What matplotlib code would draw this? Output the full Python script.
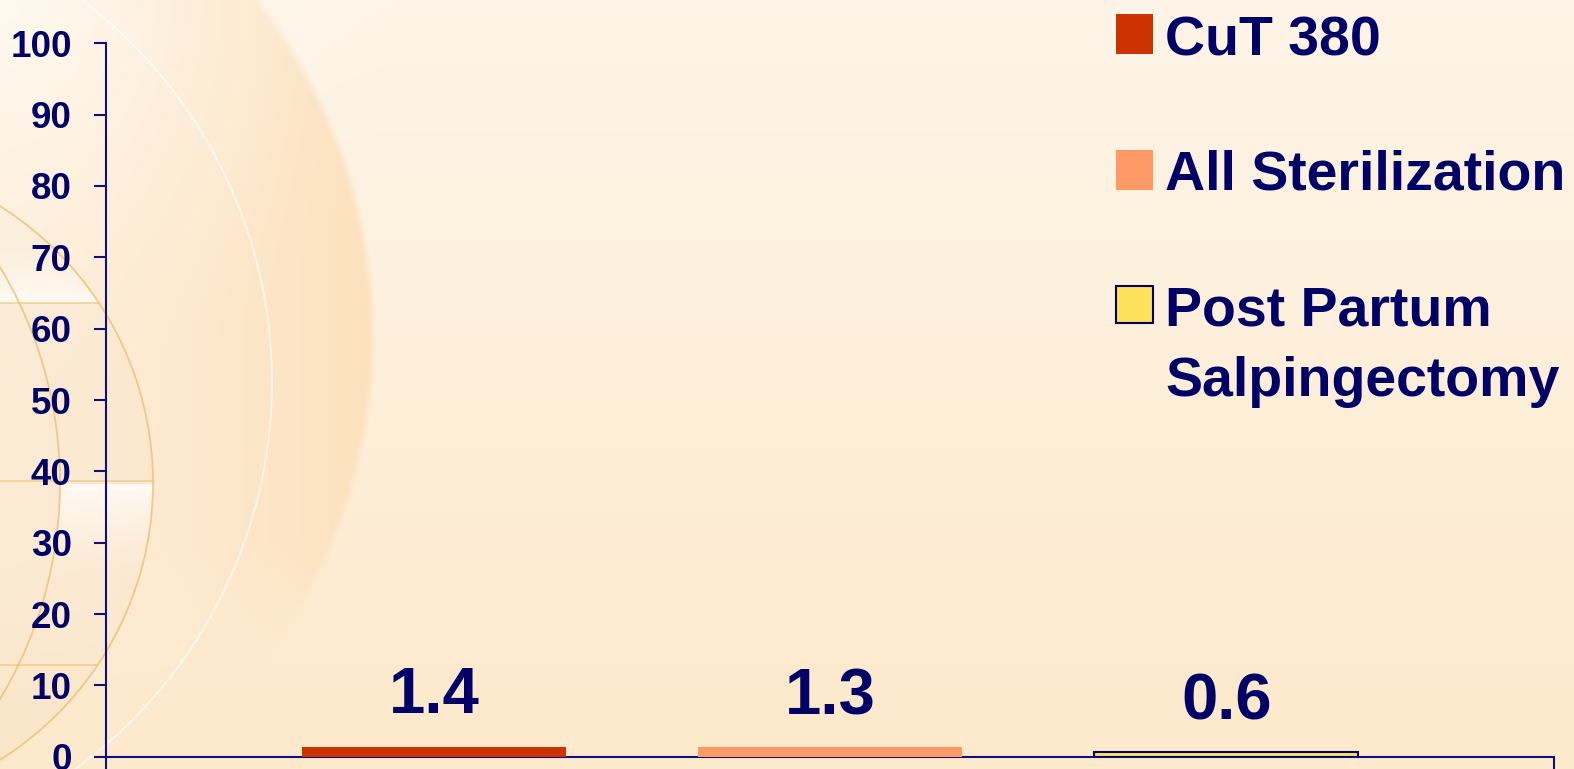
import matplotlib
matplotlib.use("Agg")
import matplotlib.pyplot as plt
import numpy as np
from matplotlib.patches import Circle, Rectangle

# data
series = ["CuT 380", "All Sterilization", "Post Partum\nSalpingectomy"]
values = [1.4, 1.3, 0.6]
value_labels = ["1.4", "1.3", "0.6"]
y_ticks = [0, 10, 20, 30, 40, 50, 60, 70, 80, 90, 100]

NAVY = "#000066"
AXIS = "#10107a"
bar_colors = ["#cc3300", "#ff9966", "#fde05c"]
bar_edges = ["none", "none", NAVY]

W, H = 1574, 769
plt.rcParams["font.family"] = ["Liberation Sans", "DejaVu Sans"]
plt.rcParams["font.weight"] = "bold"

fig = plt.figure(figsize=(W / 100, H / 100), dpi=100)

# background picture (slide template)
bg = fig.add_axes([0, 0, 1, 1], zorder=0)
bg.set_axis_off()
yy, xx = np.mgrid[0:H, 0:W].astype(float)
t = (yy / H)[..., None]
img = np.array([254, 245, 232]) * (1 - t) + np.array([253, 233, 203]) * t

# big soft disc on the left, fading towards the bottom
dist = np.sqrt((xx + 176) ** 2 + (yy - 336) ** 2)
m = np.clip((552 - dist) / 8, 0, 1) * np.clip((690 - yy) / 150, 0, 1)
s = np.clip(xx / 375, 0, 1)[..., None] ** 1.6
disc_col = np.array([254, 237, 215]) * (1 - s) + np.array([252, 225, 188]) * s
img = img * (1 - m[..., None]) + disc_col * m[..., None]

# globe drawing
outer_globe = (xx + 174) ** 2 + (yy - 483) ** 2 <= 327 ** 2
inner_globe = (xx + 359) ** 2 + (yy - 483) ** 2 <= 419 ** 2
img = np.where(outer_globe[..., None], img * 0.99, img)
white = np.array([255, 252, 248])
w1 = np.where(outer_globe & (yy >= 240) & (yy < 303), np.clip((yy - 240) / 63, 0, 1) ** 1.3 * 0.9, 0)
w2 = np.where(outer_globe & ~inner_globe & (yy > 483) & (yy < 580), np.clip(1 - (yy - 483) / 97, 0, 1) ** 1.3 * 0.9, 0)
hl = np.clip(1 - np.sqrt(xx ** 2 + yy ** 2) / 400, 0, 1) ** 1.5 * 0.8
for wgt in (w1, w2, hl):
    img = img * (1 - wgt[..., None]) + white * wgt[..., None]

bg.imshow(img.astype(np.uint8), extent=(0, W, H, 0), aspect="auto", interpolation="bilinear")
bg.add_patch(Circle((-207, 382), 479, fill=False, ec="white", lw=1.3, alpha=0.65))
orange = "#efc070"
bg.add_patch(Circle((-174, 483), 327, fill=False, ec=orange, lw=1.3, alpha=0.8))
bg.add_patch(Circle((-359, 483), 419, fill=False, ec=orange, lw=1.3, alpha=0.8))
for yl in (303, 481, 665):
    xe = np.sqrt(327 ** 2 - (yl - 483) ** 2) - 174
    bg.plot([0, xe], [yl, yl], color=orange, lw=1.3, alpha=0.6)
bg.set_xlim(0, W)
bg.set_ylim(H, 0)

# chart
x0, x1, y_top, y_zero = 106, 1554, 43.3, 756.7
ax = fig.add_axes([x0 / W, (H - y_zero) / H, (x1 - x0) / W, (y_zero - y_top) / H], zorder=2)
ax.patch.set_alpha(0)
x = np.arange(len(values))
ax.bar(x, values, width=0.667, color=bar_colors, edgecolor=bar_edges, linewidth=1.5, zorder=3)
for xi, v, lab in zip(x, values, value_labels):
    ax.annotate(lab, (xi, v), xytext=(0, 24), textcoords="offset points",
                ha="center", va="baseline", fontsize=47, fontweight="bold", color=NAVY)

ax.set_xlim(-0.828, 2.827)
ax.set_ylim(0, 100)
ax.set_yticks(y_ticks)
ax.set_xticks([-0.828, 2.827])
ax.set_xticklabels([])
ax.tick_params(axis="y", direction="out", length=8.6, width=1.5, color=AXIS,
               labelsize=26.5, labelcolor=NAVY, pad=16)
ax.tick_params(axis="x", direction="out", length=8.6, width=1.5, color=AXIS)
for lab in ax.get_yticklabels():
    lab.set_fontweight("bold")
for side in ("top", "right"):
    ax.spines[side].set_visible(False)
for side in ("left", "bottom"):
    ax.spines[side].set_color(AXIS)
    ax.spines[side].set_linewidth(1.5)

# legend drawn by hand, placed like the slide (square top, square bottom, first baseline)
leg_rows = [(14, 54, 55), (150, 190, 190), (286, 323, 325)]
for name, col, edge, (ya, yb, base) in zip(series, bar_colors, bar_edges, leg_rows):
    fig.add_artist(Rectangle((1116 / W, 1 - yb / H), 37 / W, (yb - ya) / H, transform=fig.transFigure,
                             facecolor=col, edgecolor=edge, linewidth=1.5, zorder=3))
    for k, line in enumerate(name.split("\n")):
        fig.text(1165 / W, 1 - (base + 71 * k) / H, line, ha="left", va="baseline", fontsize=40,
                 fontweight="bold", color=NAVY, zorder=3)

plt.savefig("out.png", dpi=100)
